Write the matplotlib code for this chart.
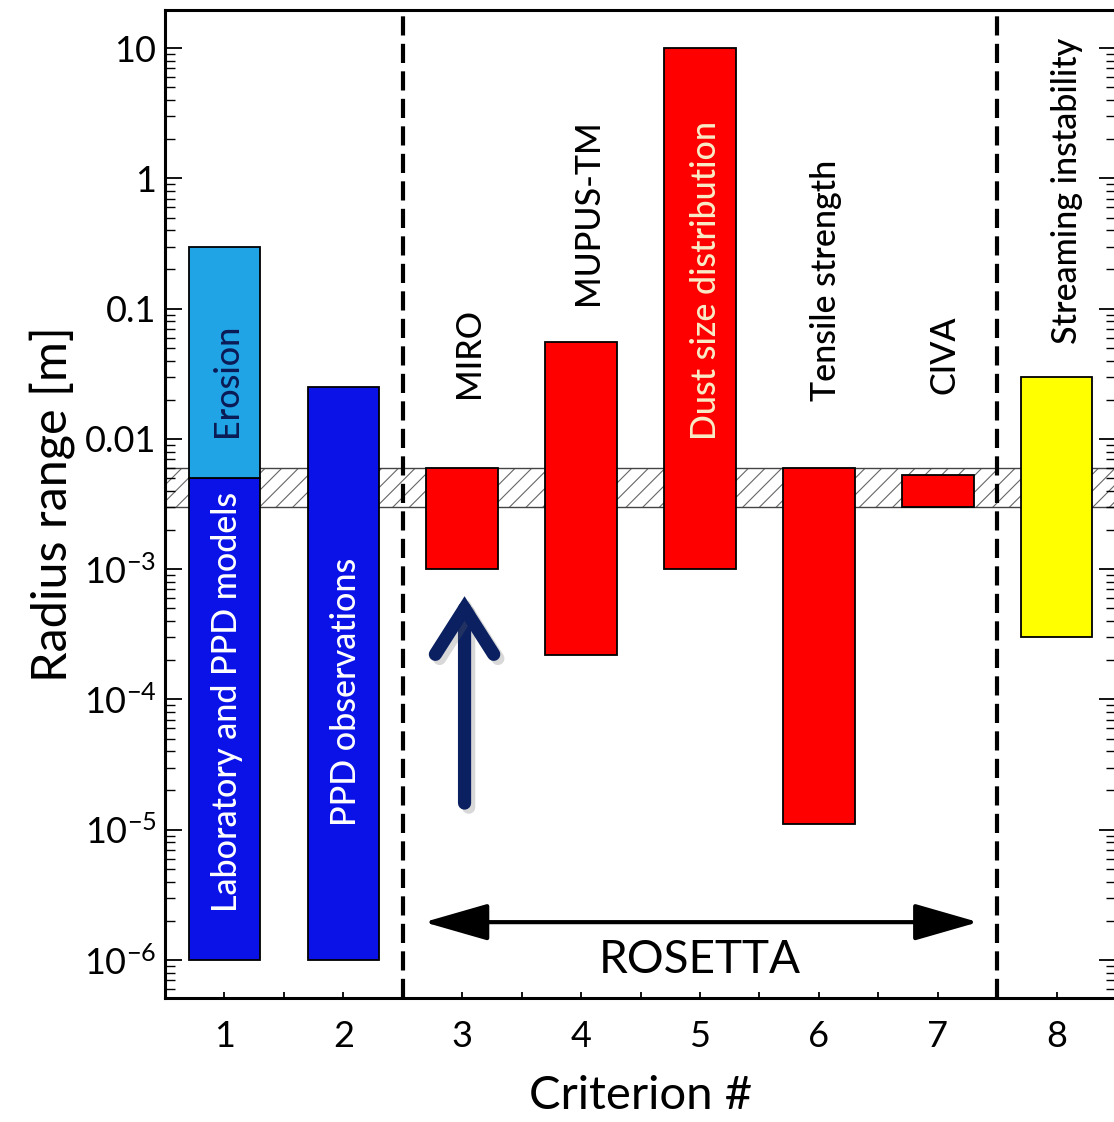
import matplotlib
matplotlib.use("Agg")
import matplotlib.pyplot as plt
from matplotlib.patches import FancyArrowPatch, ArrowStyle
from matplotlib.ticker import FixedLocator, FixedFormatter, LogLocator, NullFormatter
import matplotlib.patheffects as pe

plt.rcParams['font.family'] = ['Lato', 'DejaVu Sans']
plt.rcParams['mathtext.fontset'] = 'custom'
plt.rcParams['mathtext.rm'] = 'Lato'
plt.rcParams['mathtext.it'] = 'Lato:italic'
plt.rcParams['hatch.linewidth'] = 0.8

# Radius ranges per criterion (segments; criterion 1 is split in two)
bar_x = [1, 1, 2, 3, 4, 5, 6, 7, 8]
r_min = [1e-6, 5e-3, 1e-6, 1e-3, 2.2e-4, 1e-3, 1.1e-5, 3e-3, 3e-4]
r_max = [5e-3, 0.3, 0.025, 6e-3, 0.055, 10, 6e-3, 5.3e-3, 0.03]
bar_colors = ['#0a12e8', '#20a4e6', '#0a12e8', '#ff0000', '#ff0000',
              '#ff0000', '#ff0000', '#ff0000', '#ffff00']

# Overlap band of all criteria
band_low, band_high = 3e-3, 6e-3

# Labels: text, x, y, colour
labels = [
    ("Erosion", 1.02, 0.028, '#0b1a55'),
    ("Laboratory and PPD models", 1.02, 9.5e-5, 'white'),
    ("PPD observations", 2.02, 1.15e-4, 'white'),
    ("MIRO", 3.06, 0.046, 'black'),
    ("MUPUS-TM", 4.06, 0.55, 'black'),
    ("Dust size distribution", 5.05, 0.164, '#f8ecc8'),
    ("Tensile strength", 6.06, 0.164, 'black'),
    ("CIVA", 7.06, 0.044, 'black'),
    ("Streaming instability", 8.09, 0.8, 'black'),
]

y_ticks = [1e-6, 1e-5, 1e-4, 1e-3, 1e-2, 1e-1, 1, 10]
y_tick_labels = [r'$10^{-6}$', r'$10^{-5}$', r'$10^{-4}$', r'$10^{-3}$',
                 '0.01', '0.1', '1', '10']
x_ticks = [1, 2, 3, 4, 5, 6, 7, 8]

fig = plt.figure(figsize=(11.14, 11.22), dpi=100)
ax = fig.add_axes([0.148, 0.1105, 0.8540, 0.8805])

ax.set_yscale('log')
ax.set_xlim(0.5, 8.5)
ax.set_ylim(5.1e-7, 19.6)

# Hatched overlap band
ax.axhspan(band_low, band_high, facecolor='none', edgecolor='#666666',
           hatch='//', linewidth=0, zorder=1)
ax.axhspan(band_low, band_high, facecolor='none', edgecolor='#444444',
           linewidth=1.0, zorder=1)

heights = [hi - lo for lo, hi in zip(r_min, r_max)]
ax.bar(bar_x, heights, bottom=r_min, width=0.6, color=bar_colors,
       edgecolor='black', linewidth=1.3, zorder=2)

for xv in (2.5, 7.5):
    ax.axvline(xv, color='black', linewidth=3, linestyle=(0, (4.6, 2.0)), zorder=3)

for text, xv, yv, col in labels:
    ax.text(xv, yv, text, rotation=90, ha='center', va='center',
            color=col, fontsize=24.5, fontweight='medium', zorder=4)

# ROSETTA span arrow
rosetta = FancyArrowPatch((2.68, 1.95e-6), (7.34, 1.95e-6),
                          arrowstyle=ArrowStyle('<|-|>', head_length=40, head_width=11.5),
                          mutation_scale=1, linewidth=3, color='black',
                          shrinkA=0, shrinkB=0, zorder=4)
ax.add_patch(rosetta)
ax.text(5.0, 1.0e-6, "ROSETTA", ha='center', va='center', fontsize=33, zorder=4)

# Pointer to criterion 3
pointer = FancyArrowPatch((3.02, 1.6e-5), (3.02, 6.2e-4),
                          arrowstyle=ArrowStyle('->', head_length=33, head_width=21),
                          mutation_scale=1, linewidth=9.5, color='#0a2060',
                          capstyle='round', joinstyle='miter',
                          shrinkA=0, shrinkB=0, zorder=5)
pointer.set_path_effects([pe.SimpleLineShadow(offset=(3, -3), alpha=0.25, shadow_color='#666666'),
                          pe.Normal()])
ax.add_patch(pointer)

# Axes styling
ax.yaxis.set_major_locator(FixedLocator(y_ticks))
ax.yaxis.set_major_formatter(FixedFormatter(y_tick_labels))
ax.yaxis.set_minor_locator(LogLocator(base=10, subs=range(2, 10)))
ax.yaxis.set_minor_formatter(NullFormatter())
ax.set_xticks(x_ticks)
ax.set_xticks([v + 0.5 for v in range(0, 9)], minor=True)

ax.tick_params(axis='y', which='major', direction='in', length=12, width=1.3,
               labelsize=26, pad=6, right=True)
ax.tick_params(axis='y', which='minor', direction='in', length=7, width=1.0, right=True)
ax.tick_params(axis='x', which='both', direction='in', length=4, width=1.3,
               labelsize=26, pad=16, top=False)

for sp in ax.spines.values():
    sp.set_linewidth(2.2)

ax.set_xlabel("Criterion #", fontsize=34, labelpad=16)
ax.set_ylabel("Radius range [m]", fontsize=35, labelpad=6)

fig.savefig("out.png", dpi=100, facecolor='white')
